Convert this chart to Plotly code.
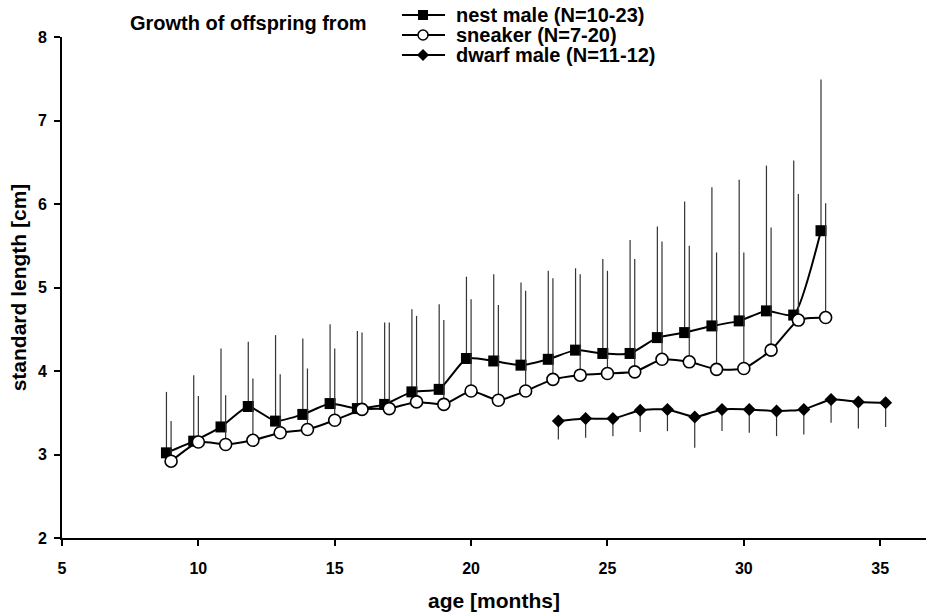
import plotly.graph_objects as go

# nest male (squares) ages and values
nest_age = [8.83, 9.83, 10.83, 11.83, 12.83, 13.83, 14.83, 15.83, 16.83, 17.83, 18.83, 19.83,
            20.83, 21.83, 22.83, 23.83, 24.83, 25.83, 26.83, 27.83, 28.83, 29.83, 30.83, 31.83, 32.83]
nest_mean = [3.02, 3.16, 3.33, 3.575, 3.40, 3.48, 3.61, 3.55, 3.60, 3.75, 3.78, 4.15,
             4.12, 4.07, 4.14, 4.25, 4.21, 4.21, 4.40, 4.46, 4.54, 4.60, 4.72, 4.67, 5.68]
nest_top = [3.75, 3.95, 4.27, 4.35, 4.43, 4.39, 4.56, 4.48, 4.58, 4.74, 4.80, 5.13,
            5.16, 5.06, 5.20, 5.23, 5.34, 5.57, 5.73, 6.03, 6.20, 6.29, 6.46, 6.52, 7.49]

# sneaker (open circles)
snk_age = [9, 10, 11, 12, 13, 14, 15, 16, 17, 18, 19, 20, 21, 22, 23, 24, 25, 26, 27, 28, 29, 30, 31, 32, 33]
snk_mean = [2.92, 3.15, 3.12, 3.17, 3.26, 3.30, 3.41, 3.54, 3.55, 3.63, 3.60, 3.76,
            3.65, 3.76, 3.90, 3.95, 3.97, 3.99, 4.14, 4.11, 4.02, 4.03, 4.25, 4.61, 4.64]
snk_top = [3.40, 3.70, 3.71, 3.91, 3.96, 4.03, 4.27, 4.46, 4.58, 4.66, 4.61, 4.86,
           4.79, 4.96, 5.11, 5.16, 5.20, 5.34, 5.55, 5.50, 5.42, 5.42, 5.72, 6.12, 6.01]

# dwarf male (diamonds)
dw_age = [23.2, 24.2, 25.2, 26.2, 27.2, 28.2, 29.2, 30.2, 31.2, 32.2, 33.2, 34.2, 35.2]
dw_mean = [3.40, 3.43, 3.43, 3.53, 3.54, 3.45, 3.54, 3.54, 3.52, 3.54, 3.66, 3.63, 3.62]
dw_bottom = [3.18, 3.20, 3.22, 3.27, 3.28, 3.08, 3.28, 3.26, 3.22, 3.24, 3.38, 3.31, 3.33]

series_names = ["nest male (N=10-23)", "sneaker (N=7-20)", "dwarf male (N=11-12)"]
x_ticks = [5, 10, 15, 20, 25, 30, 35]
y_ticks = [2, 3, 4, 5, 6, 7, 8]

FONT = "Liberation Sans, Arial, sans-serif"
W, H = 926, 614
ML, MR, MT, MB = 62, 0, 37, 76
PW, PH = W - ML - MR, H - MT - MB

fig = go.Figure()

err_style = dict(type="data", symmetric=False, width=0, thickness=1.2, color="#333")
line_style = dict(color="black", width=2, shape="spline", smoothing=0.5)

fig.add_trace(go.Scatter(
    x=nest_age, y=nest_mean, name=series_names[0], mode="lines+markers",
    line=line_style, marker=dict(symbol="square", size=11, color="black"),
    error_y=dict(array=[t - m for t, m in zip(nest_top, nest_mean)],
                 arrayminus=[0] * len(nest_mean), **err_style),
))
fig.add_trace(go.Scatter(
    x=snk_age, y=snk_mean, name=series_names[1], mode="lines+markers",
    line=line_style,
    marker=dict(symbol="circle", size=12, color="white", line=dict(color="black", width=1.6)),
    error_y=dict(array=[t - m for t, m in zip(snk_top, snk_mean)],
                 arrayminus=[0] * len(snk_mean), **err_style),
))
fig.add_trace(go.Scatter(
    x=dw_age, y=dw_mean, name=series_names[2], mode="lines+markers",
    line=line_style, marker=dict(symbol="diamond", size=10, color="black"),
    error_y=dict(array=[0] * len(dw_mean),
                 arrayminus=[m - b for m, b in zip(dw_mean, dw_bottom)], **err_style),
))

# ---- manual legend (compact row spacing like the original) ----
def px_x(p):
    return (p - ML) / PW

def px_y(p):
    return 1 + (MT - p) / PH

shapes = []
annotations = []
row_y = [15, 35, 55]
line_x0, line_x1, sym_x, text_x = 402, 445, 423, 454
for i, (name, ry) in enumerate(zip(series_names, row_y)):
    yy = px_y(ry)
    shapes.append(dict(type="line", xref="paper", yref="paper",
                       x0=px_x(line_x0), x1=px_x(line_x1), y0=yy, y1=yy,
                       line=dict(color="black", width=2)))
    common = dict(xref="paper", yref="paper", xsizemode="pixel", ysizemode="pixel",
                  xanchor=px_x(sym_x), yanchor=yy)
    if i == 0:
        shapes.append(dict(type="rect", x0=-5, x1=5, y0=-5, y1=5,
                           fillcolor="black", line=dict(color="black", width=0), **common))
    elif i == 1:
        shapes.append(dict(type="circle", x0=-5, x1=5, y0=-5, y1=5,
                           fillcolor="white", line=dict(color="black", width=1.5), **common))
    else:
        shapes.append(dict(type="path", path="M0,-6 L6,0 L0,6 L-6,0 Z",
                           fillcolor="black", line=dict(color="black", width=0), **common))
    annotations.append(dict(text="<b>" + name + "</b>", x=px_x(text_x), y=yy,
                            xref="paper", yref="paper", xanchor="left", yanchor="middle",
                            showarrow=False, font=dict(family=FONT, size=20, color="black")))

annotations.append(dict(text="<b>Growth of offspring from</b>", x=px_x(128), y=px_y(23),
                        xref="paper", yref="paper", xanchor="left", yanchor="middle",
                        showarrow=False, font=dict(family=FONT, size=20, color="black")))

fig.update_layout(
    width=W, height=H,
    margin=dict(l=ML, r=MR, t=MT, b=MB),
    paper_bgcolor="white", plot_bgcolor="white",
    font=dict(family=FONT, color="black"),
    showlegend=False,
    shapes=shapes,
    annotations=annotations,
)

fig.update_xaxes(
    range=[5, 36.68], tickvals=x_ticks, ticktext=[str(v) for v in x_ticks],
    showgrid=False, zeroline=False, showline=True, linecolor="black", linewidth=2,
    ticks="outside", ticklen=6, tickwidth=1.5, tickcolor="black", automargin=False,
    ticklabelstandoff=9,
    tickfont=dict(family=FONT, size=16, color="black", weight="bold"),
    title=dict(text="<b>age [months]</b>", font=dict(family=FONT, size=21, color="black"), standoff=17),
)
fig.update_yaxes(
    range=[2, 8], tickvals=y_ticks, ticktext=[str(v) for v in y_ticks],
    showgrid=False, zeroline=False, showline=True, linecolor="black", linewidth=2,
    ticks="outside", ticklen=6, tickwidth=1.5, tickcolor="black", automargin=False,
    ticklabelstandoff=4,
    tickfont=dict(family=FONT, size=16, color="black", weight="bold"),
    title=dict(text="<b>standard length [cm]</b>", font=dict(family=FONT, size=21, color="black"), standoff=6),
)

fig.write_html("out.html", config={"displayModeBar": False},
               post_script="document.body.style.margin='0px';document.body.style.overflow='hidden';")
